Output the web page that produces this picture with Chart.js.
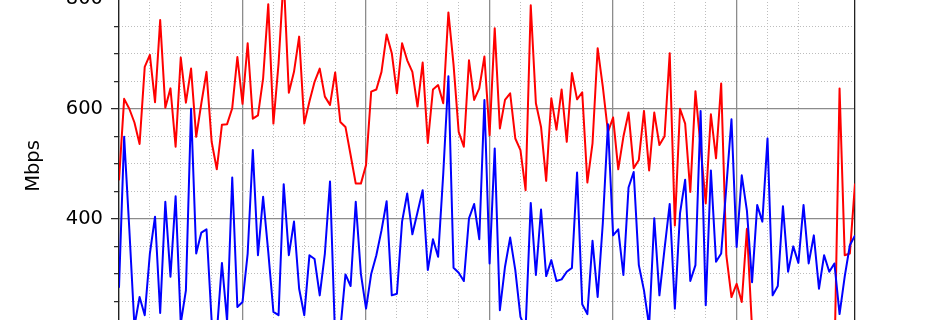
<!DOCTYPE html>
<html>
<head>
<meta charset="utf-8">
<script src="https://cdn.jsdelivr.net/npm/chart.js@4/dist/chart.umd.min.js"></script>
<style>
  html, body { margin: 0; padding: 0; background: #fff; overflow: hidden; }
  #wrap { position: absolute; left: 0; top: -72px; width: 950px; height: 480px; }
</style>
</head>
<body>
<div id="wrap"><canvas id="grafico"></canvas></div>
<script>
// hourly samples, 6 days
var redValues = [
  470, 618, 600, 575, 536, 676, 698, 612, 761, 602, 637, 531, 693, 611, 673, 549, 610, 667, 540, 490, 571, 572, 601, 694,
  609, 719, 582, 588, 655, 790, 573, 682, 840, 629, 667, 731, 573, 613, 649, 673, 622, 607, 666, 576, 567, 516, 464, 464,
  498, 631, 635, 667, 735, 701, 628, 719, 688, 667, 604, 684, 538, 635, 643, 610, 775, 680, 558, 531, 688, 616, 637, 695,
  552, 746, 564, 616, 628, 546, 525, 452, 788, 610, 567, 469, 619, 562, 635, 540, 665, 617, 630, 466, 537, 710, 640, 558,
  584, 490, 549, 593, 492, 507, 596, 488, 593, 534, 550, 701, 388, 600, 573, 449, 632, 531, 428, 590, 510, 646, 334, 258,
  282, 249, 382, 200, 150, 185, 160, 195, 140, 175, 200, 155, 180, 130, 190, 165, 145, 185, 170, 138, 637, 334, 337, 464
];
var blueValues = [
  275, 549, 382, 205, 258, 225, 337, 404, 229, 431, 295, 441, 210, 270, 600, 337, 375, 381, 215, 192, 320, 214, 475, 240,
  249, 337, 525, 334, 440, 340, 231, 225, 463, 334, 395, 273, 225, 334, 327, 261, 337, 468, 180, 198, 299, 278, 431, 300,
  237, 300, 334, 379, 432, 261, 264, 395, 446, 372, 412, 452, 307, 363, 331, 482, 659, 311, 302, 287, 401, 427, 363, 616,
  319, 528, 234, 313, 366, 307, 222, 200, 429, 298, 417, 296, 325, 287, 290, 304, 311, 484, 245, 227, 360, 258, 392, 572,
  370, 381, 298, 457, 485, 316, 270, 205, 401, 261, 346, 427, 237, 410, 471, 287, 316, 596, 243, 488, 322, 337, 458, 581,
  349, 479, 415, 285, 425, 395, 546, 261, 278, 423, 304, 350, 320, 425, 319, 370, 273, 334, 304, 319, 227, 295, 352, 370
];
var hours = redValues.map(function (v, i) { return i; });
var yTickLabels = [200, 400, 600, 800];

var fuente = { family: 'DejaVu Sans', size: 19.5 };
var gris = '#8c8c8c';
var grisClaro = '#bdbdbd';
var negro = '#222';
var punteado = [1, 2];

function esMayorY(v) { return v % 200 === 0; }
function esMayorX(v) { return v % 24 === 0; }

new Chart(document.getElementById('grafico'), {
  type: 'line',
  data: {
    labels: hours,
    datasets: [
      { label: 'blue', data: blueValues, borderColor: '#0000ff', borderWidth: 2, pointRadius: 0, tension: 0, borderJoinStyle: 'round' },
      { label: 'red', data: redValues, borderColor: '#ff0000', borderWidth: 2, pointRadius: 0, tension: 0, borderJoinStyle: 'round' }
    ]
  },
  options: {
    responsive: true,
    maintainAspectRatio: false,
    animation: false,
    events: [],
    layout: { padding: { top: 20, right: 95, bottom: 24, left: 0 } },
    plugins: { legend: { display: false }, tooltip: { enabled: false } },
    scales: {
      x: {
        type: 'linear', position: 'bottom', min: 0, max: 143,
        ticks: { display: false, stepSize: 24 },
        grid: {
          drawTicks: false, lineWidth: 1.3,
          color: function (c) { return esMayorX(c.tick.value) ? gris : 'rgba(0,0,0,0)'; }
        },
        border: { display: false }
      },
      x2: {
        type: 'linear', position: 'top', min: 0, max: 143,
        ticks: { display: false, stepSize: 6 },
        grid: {
          drawTicks: false, lineWidth: 1,
          color: function (c) {
            var v = c.tick.value;
            return (esMayorX(v) || v === 143) ? 'rgba(0,0,0,0)' : grisClaro;
          }
        },
        border: { display: false, dash: punteado }
      },
      y: {
        type: 'linear', position: 'left', min: 100, max: 892,
        afterFit: function (scale) { scale.width = 119; },
        ticks: {
          stepSize: 50, padding: 8, color: '#000', font: fuente,
          callback: function (v) { return yTickLabels.indexOf(v) >= 0 ? String(v) : ''; }
        },
        grid: {
          drawTicks: true, tickLength: 8, tickWidth: 1.2, tickColor: negro, lineWidth: 1.3,
          color: function (c) { return esMayorY(c.tick.value) ? gris : 'rgba(0,0,0,0)'; },
          tickBorderDash: function (c) { return esMayorY(c.tick.value) ? [] : [5, 3]; },
          tickBorderDashOffset: function (c) { return esMayorY(c.tick.value) ? 0 : 5; }
        },
        border: { display: true, color: negro, width: 1.3 },
        title: { display: true, text: 'Mbps', color: '#000', font: fuente, padding: { top: 22, bottom: 0 } }
      },
      y2: {
        type: 'linear', position: 'right', min: 100, max: 892,
        ticks: { display: false, stepSize: 50 },
        grid: {
          drawTicks: false, lineWidth: 1,
          color: function (c) {
            var v = c.tick.value;
            return (esMayorY(v) || v % 50 !== 0) ? 'rgba(0,0,0,0)' : grisClaro;
          }
        },
        border: { display: true, color: negro, width: 1.3, dash: punteado }
      }
    }
  }
});
</script>
</body>
</html>
